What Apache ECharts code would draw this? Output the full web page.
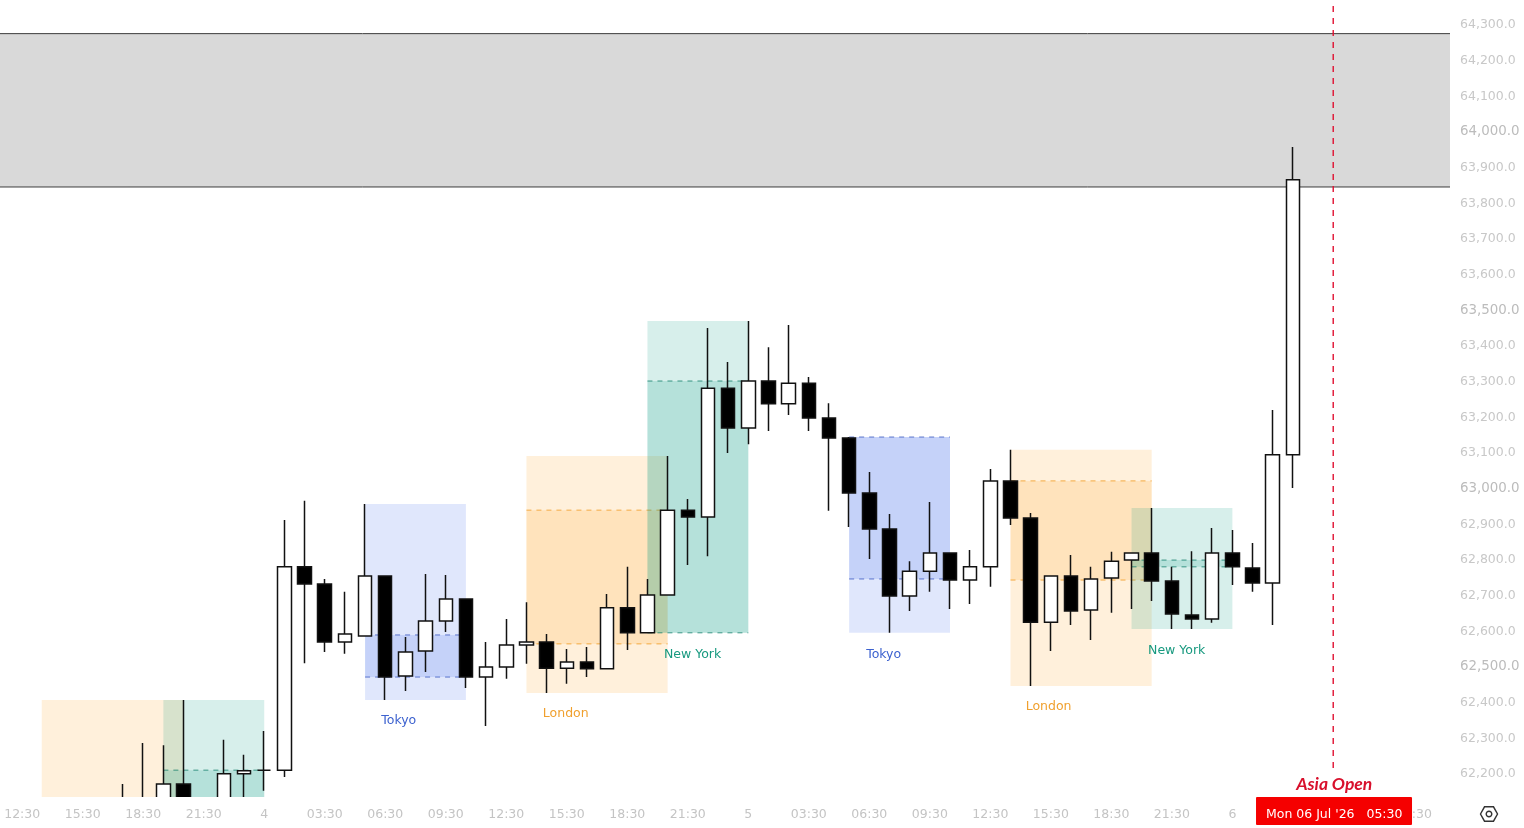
<!DOCTYPE html>
<html>
<head>
<meta charset="utf-8">
<style>
  html, body { margin: 0; padding: 0; background: #fff; }
  #chart { width: 1524px; height: 828px; }
</style>
<script src="https://cdn.jsdelivr.net/npm/echarts@6/dist/echarts.min.js"></script>
</head>
<body>
<div id="chart"></div>
<script>
// Hourly candles; slot numbers count hours from the 12:30 tick.
const firstSlot = 5;
const opens  = [62090,62110,62096,62169,62110,62096,62198,62208,62208,62778,62730,62567,62584,62752,62472,62542,62626,62688,62469,62497,62559,62567,62494,62511,62492,62663,62593,62699,62937,62918,63279,63167,63299,63235,63293,63195,63139,62985,62884,62696,62766,62817,62741,62778,63019,62915,62623,62752,62657,62747,62797,62817,62738,62643,62632,62817,62775,62733,63092];
const closes = [62110,62090,62169,62110,62090,62198,62206,62208,62778,62730,62567,62590,62752,62469,62539,62626,62688,62469,62497,62559,62567,62494,62511,62492,62663,62593,62699,62937,62918,63279,63167,63299,63235,63293,63195,63139,62985,62884,62696,62766,62817,62741,62778,63019,62915,62623,62752,62654,62744,62794,62817,62738,62646,62632,62817,62778,62733,63092,63863];
const lows   = [62060,62050,62070,62040,62060,62068,62100,62150,62189,62508,62539,62534,62583,62405,62430,62483,62595,62438,62332,62464,62506,62424,62450,62469,62492,62545,62593,62699,62783,62808,63097,63122,63159,63204,63159,62935,62890,62800,62593,62654,62708,62660,62674,62722,62895,62444,62542,62615,62573,62649,62660,62682,62604,62604,62621,62727,62708,62615,62999];
const highs  = [62169,62284,62278,62405,62120,62293,62251,62318,62909,62963,62744,62708,62954,62752,62581,62758,62755,62688,62567,62632,62679,62590,62548,62553,62702,62778,62744,63089,62968,63448,63352,63467,63394,63456,63310,63237,63142,63044,62926,62794,62960,62817,62825,63052,63106,62929,62752,62811,62778,62820,62817,62943,62778,62822,62887,62881,62845,63218,63955];

// Session boxes: full range, body range and caption anchor.
const sessionKinds  = ['london','newyork','tokyo','london','newyork','tokyo','london','newyork'];
const sessionNames  = ['London','New York','Tokyo','London','New York','Tokyo','London','New York'];
const sessionStart  = [0.97,7,17,25,31,41,49,55];
const sessionEnd    = [8,12,22,32,36,46,56,60];
const sessionTop    = [62405,62405,62954,63089,63467,63142,63106,62943];
const sessionBottom = [62000,62000,62405,62424,62593,62593,62444,62604];
const bodyTop       = [62020,62208,62587,62937,63299,63142,63019,62797];
const bodyBottom    = [62010,62090,62469,62562,62593,62744,62741,62778];
const captionSlot   = [4,10,18.67,26.95,33.24,42.71,50.89,57.24];
const captionPrice  = [62000,62000,62346,62365,62531,62531,62385,62542];

// Supply zone across the top of the chart.
const zoneTop = 64273;
const zoneBottom = 63843;

// Vertical marker for the Asia open.
const markerSlot = 65;
const markerText = 'Asia Open';
const markerDate = "Mon 06 Jul '26   05:30";
const markerLineEnd = 62214;

// Axis ticks.
const timeLabels = ['12:30','15:30','18:30','21:30','4','03:30','06:30','09:30','12:30','15:30','18:30','21:30','5','03:30','06:30','09:30','12:30','15:30','18:30','21:30','6','03:30','06:30','09:30'];
const priceTicks = [62200,62300,62400,62500,62600,62700,62800,62900,63000,63100,63200,63300,63400,63500,63600,63700,63800,63900,64000,64100,64200,64300];

const slotMin = -1.1;
const slotMax = 70.79;
const priceMin = 62132.7;
const priceMax = 64367.3;

const sessionColors = {
  london:  { fill: 'rgba(255,152,0,0.14)',  line: 'rgba(240,150,20,0.75)', text: '#f0a02e' },
  newyork: { fill: 'rgba(8,153,129,0.16)',  line: 'rgba(8,120,100,0.75)',  text: '#17997f' },
  tokyo:   { fill: 'rgba(50,95,235,0.15)',  line: 'rgba(50,80,190,0.75)',  text: '#3d62cf' }
};
const uiFont = '"DejaVu Sans", sans-serif';

const candleData = opens.map((o, i) => [firstSlot + i, o, closes[i], lows[i], highs[i]]);
const sessionData = sessionStart.map((s, i) => [
  s, sessionEnd[i], sessionTop[i], sessionBottom[i], bodyTop[i], bodyBottom[i], captionSlot[i], captionPrice[i], i
]);

function renderZone(params, api) {
  const a = api.coord([slotMin, zoneTop]);
  const b = api.coord([slotMax, zoneBottom]);
  const border = { stroke: '#3c3c3c', lineWidth: 1 };
  return {
    type: 'group',
    children: [
      { type: 'rect', shape: { x: a[0], y: a[1], width: b[0] - a[0], height: b[1] - a[1] }, style: { fill: '#d9d9d9' } },
      { type: 'line', shape: { x1: a[0], y1: a[1], x2: b[0], y2: a[1] }, style: border },
      { type: 'line', shape: { x1: a[0], y1: b[1], x2: b[0], y2: b[1] }, style: border }
    ]
  };
}

function renderSession(params, api) {
  const i = api.value(8);
  const c = sessionColors[sessionKinds[i]];
  const left = api.coord([api.value(0), api.value(2)]);
  const right = api.coord([api.value(1), api.value(3)]);
  const innerTop = api.coord([api.value(0), api.value(4)])[1];
  const innerBottom = api.coord([api.value(0), api.value(5)])[1];
  const w = right[0] - left[0];
  const dash = { stroke: c.line, lineWidth: 1, lineDash: [5, 5] };
  const cap = api.coord([api.value(6), api.value(7)]);
  return {
    type: 'group',
    children: [
      { type: 'rect', shape: { x: left[0], y: left[1], width: w, height: right[1] - left[1] }, style: { fill: c.fill } },
      { type: 'rect', shape: { x: left[0], y: innerTop, width: w, height: innerBottom - innerTop }, style: { fill: c.fill } },
      { type: 'line', shape: { x1: left[0], y1: innerTop, x2: right[0], y2: innerTop }, style: dash },
      { type: 'line', shape: { x1: left[0], y1: innerBottom, x2: right[0], y2: innerBottom }, style: dash },
      { type: 'text', x: cap[0], y: cap[1], style: { text: sessionNames[i], fill: c.text, font: '12.5px ' + uiFont, align: 'center', verticalAlign: 'middle' } }
    ]
  };
}

// Candles run past the bottom of the plot; the time-axis strip hides what falls below it.
function renderFooter(params, api) {
  const a = api.coord([slotMin, priceMin]);
  const b = api.coord([slotMax, priceMin]);
  return { type: 'rect', shape: { x: a[0], y: a[1], width: b[0] - a[0], height: 40 }, style: { fill: '#ffffff' } };
}

function renderMarker(params, api) {
  const base = api.coord([markerSlot, priceMin]);
  const w = 156, h = 28;
  return {
    type: 'group',
    children: [
      { type: 'rect', shape: { x: base[0] - w / 2 + 0.8, y: base[1], width: w, height: h, r: 1 }, style: { fill: '#f50000' } },
      { type: 'text', x: base[0] + 1, y: base[1] + 17.5, style: { text: markerDate, fill: '#ffffff', font: '12.5px ' + uiFont, align: 'center', verticalAlign: 'middle' } },
      { type: 'text', x: base[0] + 1, y: base[1] - 13, style: { text: markerText, fill: '#d8102c', font: 'italic bold 17.5px Lato, sans-serif', align: 'center', verticalAlign: 'middle' } }
    ]
  };
}

const chart = echarts.init(document.getElementById('chart'), null, { renderer: 'canvas' });
chart.setOption({
  animation: false,
  backgroundColor: '#ffffff',
  grid: { left: 0, top: 0, width: 1450, height: 797 },
  xAxis: {
    type: 'value',
    z: 6,
    min: slotMin,
    max: slotMax,
    axisLine: { show: false },
    axisTick: { show: false },
    splitLine: { show: false },
    axisLabel: {
      customValues: timeLabels.map((_, i) => i * 3),
      formatter: v => timeLabels[Math.round(v / 3)],
      color: '#c4c4c4',
      fontFamily: uiFont,
      fontSize: 12.5,
      margin: 11
    }
  },
  yAxis: {
    type: 'value',
    position: 'right',
    min: priceMin,
    max: priceMax,
    axisLine: { show: false },
    axisTick: { show: false },
    splitLine: { show: false },
    axisLabel: {
      customValues: priceTicks,
      formatter: v => {
        const s = v.toLocaleString('en-US', { minimumFractionDigits: 1, maximumFractionDigits: 1 });
        return v % 500 === 0 ? '{major|' + s + '}' : s;
      },
      color: '#c8c8c8',
      fontFamily: uiFont,
      fontSize: 12.5,
      margin: 10,
      padding: [2, 0, 0, 0],
      rich: { major: { color: '#bcbcbc', fontFamily: uiFont, fontSize: 13.4 } }
    }
  },
  series: [
    { name: 'Zone', type: 'custom', renderItem: renderZone, data: [[slotMin, zoneTop]], clip: true, silent: true, z: 1 },
    { name: 'Sessions', type: 'custom', renderItem: renderSession, data: sessionData, clip: true, silent: true, z: 2 },
    {
      name: 'Price',
      type: 'candlestick',
      data: candleData,
      encode: { x: 0, y: [1, 2, 3, 4] },
      barWidth: 14,
      clip: true,
      z: 3,
      itemStyle: { color: '#ffffff', color0: '#000000', borderColor: '#111111', borderColor0: '#111111', borderWidth: 1.5 }
    },
    { name: 'Time strip', type: 'custom', renderItem: renderFooter, data: [[slotMin, priceMin]], clip: false, silent: true, z: 4 },
    {
      name: 'Asia open line',
      type: 'line',
      data: [[markerSlot, markerLineEnd], [markerSlot, priceMax]],
      symbol: 'none',
      silent: true,
      z: 5,
      lineStyle: { color: '#e00f30', width: 1.4, type: [6, 6] }
    },
    { name: 'Asia open', type: 'custom', renderItem: renderMarker, data: [[markerSlot, priceMin]], clip: false, silent: true, z: 10 }
  ],
  graphic: [
    {
      type: 'group',
      x: 1489, y: 814,
      children: [
        { type: 'polygon', shape: { points: [[-8.5, 0], [-4.5, -7.2], [4.5, -7.2], [8.5, 0], [4.5, 7.2], [-4.5, 7.2]] }, style: { fill: 'none', stroke: '#333333', lineWidth: 1.4 } },
        { type: 'circle', shape: { cx: 0, cy: 0, r: 2.8 }, style: { fill: 'none', stroke: '#333333', lineWidth: 1.4 } }
      ]
    }
  ]
});
</script>
</body>
</html>
